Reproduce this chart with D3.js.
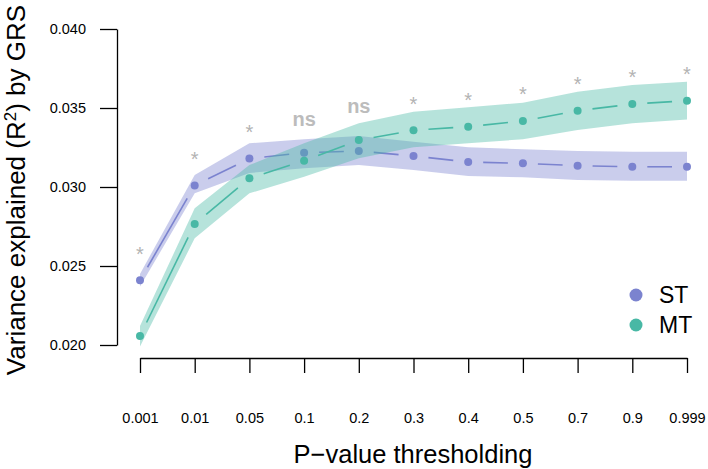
<!DOCTYPE html>
<html>
<head>
<meta charset="utf-8">
<script src="https://cdn.jsdelivr.net/npm/d3@7"></script>
<style>
  html, body { margin: 0; padding: 0; background: #fff; }
  svg { display: block; font-family: "Liberation Sans", Arial, Helvetica, sans-serif; }
</style>
</head>
<body>
<svg id="chart" width="708" height="469"></svg>
<script>
// ---- data ----
const thresholds = ["0.001","0.01","0.05","0.1","0.2","0.3","0.4","0.5","0.7","0.9","0.999"];
const stValues = [0.0241,0.0301,0.0318,0.03217,0.03228,0.03196,0.03158,0.0315,0.03135,0.03128,0.03128];
const stUpper  = [0.0245,0.03076,0.03277,0.03302,0.03323,0.03287,0.03251,0.03239,0.03228,0.03223,0.03223];
const stLower  = [0.0237,0.0296,0.03089,0.03118,0.03139,0.03108,0.0307,0.03061,0.03044,0.0304,0.0304];
const mtValues = [0.02057,0.02766,0.03055,0.03166,0.03297,0.03359,0.03382,0.03418,0.03483,0.03525,0.03546];
const mtUpper  = [0.0212,0.02865,0.03139,0.03277,0.03403,0.03477,0.03504,0.03534,0.03603,0.03646,0.03666];
const mtLower  = [0.0199,0.02675,0.0296,0.03065,0.03182,0.03251,0.03277,0.03302,0.03361,0.03403,0.03428];
const signif   = ["*","*","*","ns","ns","*","*","*","*","*","*"];
const yTicks = [0.020,0.025,0.030,0.035,0.040];
const seriesNames = ["ST","MT"];

const colors = { ST: "#7B83CF", MT: "#48B8A5" };

// ---- layout ----
const svg = d3.select("#chart");
const x = d3.scalePoint().domain(thresholds).range([140, 687]);
const y = d3.scaleLinear().domain([0.020, 0.040]).range([345, 29]);

const series = [
  { name: "ST", values: stValues, upper: stUpper, lower: stLower },
  { name: "MT", values: mtValues, upper: mtUpper, lower: mtLower }
];

const area = d3.area()
  .x((d, i) => x(thresholds[i]))
  .y0(d => y(d[0]))
  .y1(d => y(d[1]));

const gap = 15;
series.forEach(s => {
  const col = colors[s.name];
  const bandData = s.lower.map((lo, i) => [lo, s.upper[i]]);
  svg.append("path")
    .attr("d", area(bandData))
    .attr("fill", col)
    .attr("fill-opacity", 0.4)
    .attr("stroke", "none");
  // segments with gaps around points (R type = "b")
  for (let i = 0; i < thresholds.length - 1; i++) {
    const x1 = x(thresholds[i]), y1 = y(s.values[i]);
    const x2 = x(thresholds[i+1]), y2 = y(s.values[i+1]);
    const len = Math.hypot(x2 - x1, y2 - y1);
    const ux = (x2 - x1) / len, uy = (y2 - y1) / len;
    svg.append("line")
      .attr("x1", x1 + ux * gap).attr("y1", y1 + uy * gap)
      .attr("x2", x2 - ux * gap).attr("y2", y2 - uy * gap)
      .attr("stroke", col).attr("stroke-width", 1.6);
  }
  svg.append("g").selectAll("circle")
    .data(s.values).join("circle")
    .attr("cx", (d, i) => x(thresholds[i]))
    .attr("cy", d => y(d))
    .attr("r", 4)
    .attr("fill", col);
});

// significance annotations
signif.forEach((lab, i) => {
  const top = Math.max(stValues[i], mtValues[i]) + 0.002;
  const cx = x(thresholds[i]);
  const cy = y(top);
  if (lab === "*") {
    svg.append("text")
      .attr("x", cx).attr("y", cy + 12)
      .attr("text-anchor", "middle")
      .attr("font-size", 20)
      .attr("fill", "#b3b3b3")
      .text("*");
  } else {
    svg.append("text")
      .attr("x", cx).attr("y", cy + 5)
      .attr("text-anchor", "middle")
      .attr("font-size", 20)
      .attr("font-weight", "bold")
      .attr("fill", "#bcbcbc")
      .text(lab);
  }
});

// axes
const yAxis = svg.append("g")
  .attr("transform", "translate(117,0)")
  .call(d3.axisLeft(y).tickValues(yTicks).tickFormat(d3.format(".3f"))
        .tickSize(17).tickSizeOuter(0).tickPadding(14));
const xAxis = svg.append("g")
  .attr("transform", "translate(0,358)")
  .call(d3.axisBottom(x).tickSize(15).tickSizeOuter(0).tickPadding(40));
[yAxis, xAxis].forEach(g => {
  g.selectAll("path, line").attr("stroke", "#000").attr("stroke-width", 1.3);
  g.selectAll("text").attr("font-size", 14.5).attr("fill", "#000")
    .attr("font-family", "\"Liberation Sans\", Arial, Helvetica, sans-serif");
});

// axis titles
svg.append("text")
  .attr("x", 413).attr("y", 463)
  .attr("text-anchor", "middle")
  .attr("font-size", 25.5)
  .text("P\u2212value thresholding");

const yt = svg.append("text")
  .attr("transform", "translate(25,190) rotate(-90)")
  .attr("text-anchor", "middle")
  .attr("font-size", 26);
yt.append("tspan").text("Variance explained (R");
yt.append("tspan").attr("dy", -9).attr("font-size", 17).text("2");
yt.append("tspan").attr("dy", 9).text(") by GRS");

// legend
seriesNames.forEach((n, i) => {
  const ly = 295 + i * 30;
  svg.append("circle").attr("cx", 636).attr("cy", ly).attr("r", 6.5).attr("fill", colors[n]);
  svg.append("text").attr("x", 659).attr("y", ly + 8).attr("font-size", 23).text(n);
});
</script>
</body>
</html>
